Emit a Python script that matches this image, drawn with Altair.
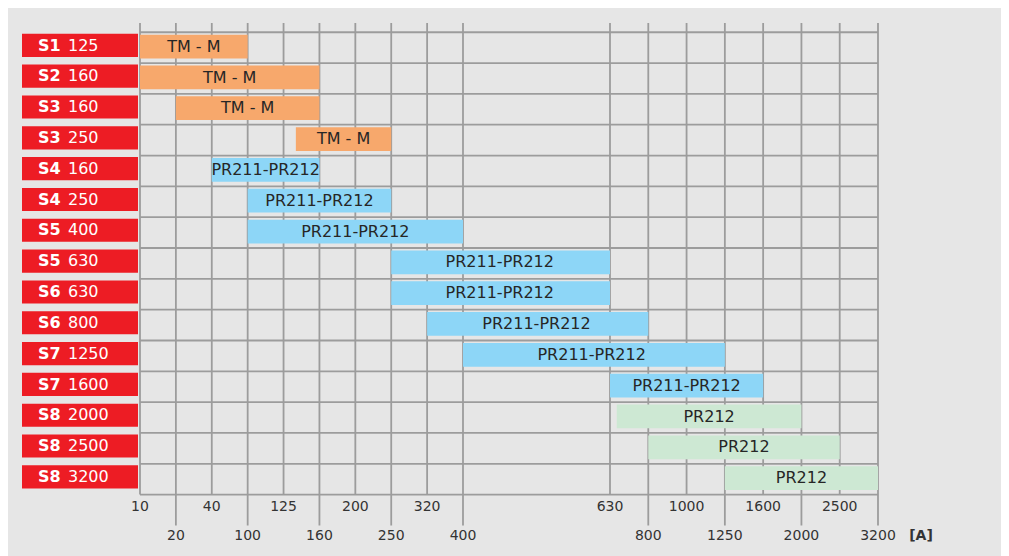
import altair as alt
import pandas as pd

# ---- data ----
series = ["S1", "S2", "S3", "S3", "S4", "S4", "S5", "S5", "S6", "S6", "S7", "S7", "S8", "S8", "S8"]
ratings = ["125", "160", "160", "250", "160", "250", "400", "630", "630", "800", "1250", "1600", "2000", "2500", "3200"]
releases = ["TM - M"] * 4 + ["PR211-PR212"] * 8 + ["PR212"] * 3
amp_lo = [10, 10, 20, 137, 40, 100, 100, 250, 250, 320, 400, 630, 660, 800, 1250]
amp_hi = [100, 160, 160, 250, 160, 250, 400, 630, 630, 800, 1250, 1600, 2000, 2500, 3200]

tick_labels = [10, 20, 40, 100, 125, 160, 200, 250, 320, 400, 630, 800, 1000, 1250, 1600, 2000, 2500, 3200]
# slot of each tick on the chart's non-uniform current scale (empty gap between 400 and 630)
tick_slots = [0, 1, 2, 3, 4, 5, 6, 7, 8, 9, 13, 14, 15, 16, 17, 18, 19, 20]

release_names = ["TM - M", "PR211-PR212", "PR212"]
release_colors = ["#F7A86C", "#8DD6F7", "#CDE8D3"]


def amp_to_slot(a):
    for i in range(len(tick_labels) - 1):
        a0, a1 = tick_labels[i], tick_labels[i + 1]
        if a0 <= a <= a1:
            s0, s1 = tick_slots[i], tick_slots[i + 1]
            return s0 + (a - a0) / (a1 - a0) * (s1 - s0)
    return tick_slots[-1]


bars = pd.DataFrame({
    "row": list(range(len(series))),
    "series": series,
    "rating": ratings,
    "release": releases,
    "lo": [amp_to_slot(a) for a in amp_lo],
    "hi": [amp_to_slot(a) for a in amp_hi],
})

ticks = pd.DataFrame({
    "slot": tick_slots,
    "label": [str(t) for t in tick_labels],
    "lower": [i % 2 == 1 for i in range(len(tick_labels))],
})
ticks["ytop"] = -0.3
ticks["ybot"] = ticks["lower"].map({True: 16.0, False: 15.0})
ticks["ylab"] = ticks["lower"].map({True: 16.33, False: 15.39})

hlines = pd.DataFrame({"r": list(range(len(series) + 1)), "x0": 0, "x1": 20})

FONT = "DejaVu Sans"
W_MAIN = 738
H = 524

xs = alt.Scale(domain=[0, 9, 13, 20], range=[0, 323, 470, 738], nice=False, zero=False)
ys = alt.Scale(domain=[-0.3, 16.7], reverse=True, nice=False, zero=False)

grid_color = "#9C9C9C"

h_grid = alt.Chart(hlines).mark_rule(color=grid_color, strokeWidth=1.8).encode(
    x=alt.X("x0:Q", scale=xs, axis=None),
    x2="x1:Q",
    y=alt.Y("r:Q", scale=ys, axis=None),
)

v_grid = alt.Chart(ticks).mark_rule(color=grid_color, strokeWidth=1.8).encode(
    x=alt.X("slot:Q", scale=xs, axis=None),
    y=alt.Y("ytop:Q", scale=ys, axis=None),
    y2="ybot:Q",
)

base_bars = alt.Chart(bars).transform_calculate(
    y0="datum.row + 0.08",
    y1="datum.row + 0.85",
    ym="datum.row + 0.47",
    xm="(datum.lo + datum.hi) / 2",
)

bar_rects = base_bars.mark_rect().encode(
    x=alt.X("lo:Q", scale=xs, axis=None),
    x2="hi:Q",
    y=alt.Y("y0:Q", scale=ys, axis=None),
    y2="y1:Q",
    color=alt.Color("release:N", scale=alt.Scale(domain=release_names, range=release_colors), legend=None),
)

bar_text = base_bars.mark_text(font=FONT, fontSize=16, color="#262626", baseline="middle", align="center").encode(
    x=alt.X("xm:Q", scale=xs, axis=None),
    y=alt.Y("ym:Q", scale=ys, axis=None),
    text="release:N",
)

tick_text = alt.Chart(ticks).mark_text(font=FONT, fontSize=14, color="#333333", baseline="middle", align="center").encode(
    x=alt.X("slot:Q", scale=xs, axis=None),
    y=alt.Y("ylab:Q", scale=ys, axis=None),
    text="label:N",
)

unit_text = alt.Chart(pd.DataFrame({"u": ["[A]"], "y": [16.33]})).mark_text(
    font=FONT, fontSize=14, fontWeight="bold", color="#333333", baseline="middle", align="center"
).encode(
    x=alt.value(781),
    y=alt.Y("y:Q", scale=ys, axis=None),
    text="u:N",
)

main = alt.layer(h_grid, v_grid, bar_rects, bar_text, tick_text, unit_text).properties(width=W_MAIN, height=H)

# ---- left row labels (red boxes) ----
base_lab = alt.Chart(bars).transform_calculate(
    y0="datum.row + 0.05",
    y1="datum.row + 0.80",
    ym="datum.row + 0.43",
)
lab_rect = base_lab.mark_rect(color="#ED1C24").encode(
    x=alt.value(0),
    x2=alt.value(116),
    y=alt.Y("y0:Q", scale=ys, axis=None),
    y2="y1:Q",
)
lab_series = base_lab.mark_text(font=FONT, fontSize=16, fontWeight="bold", color="white", align="left", baseline="middle").encode(
    x=alt.value(16),
    y=alt.Y("ym:Q", scale=ys, axis=None),
    text="series:N",
)
lab_rating = base_lab.mark_text(font=FONT, fontSize=16, color="white", align="left", baseline="middle").encode(
    x=alt.value(46),
    y=alt.Y("ym:Q", scale=ys, axis=None),
    text="rating:N",
)
left = alt.layer(lab_rect, lab_series, lab_rating).properties(width=116, height=H)

chart = alt.hconcat(left, main, spacing=2, bounds="flush").properties(
    background="#E6E6E6",
    padding={"left": 14, "top": 14, "right": 68, "bottom": 16},
).configure_view(stroke=None)

chart.save("out.html", embed_options={"renderer": "svg", "actions": False})
